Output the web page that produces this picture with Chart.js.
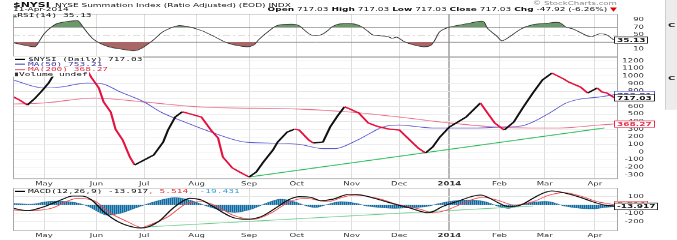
<!DOCTYPE html>
<html><head><meta charset="utf-8">
<script src="https://cdn.jsdelivr.net/npm/chart.js@4.4.1/dist/chart.umd.min.js"></script>
<style>
html,body{margin:0;padding:0;background:#fff;overflow:hidden;width:677px;height:240px;}
#stage{position:absolute;left:0;top:0;width:677px;height:400px;transform:scale(1,0.6);transform-origin:0 0;}
canvas{position:absolute;left:0;top:0;}
.t{position:absolute;white-space:nowrap;font-family:"DejaVu Sans",sans-serif;color:#111;}
.lg{position:absolute;left:13px;white-space:nowrap;font-family:"DejaVu Sans Mono",monospace;font-size:9.5px;line-height:8.5px;height:8.5px;background:#fff;color:#111;padding-right:1px;}
.dash{display:inline-block;width:10px;height:2px;vertical-align:middle;margin:0 3px 0 2px;}
.vb{position:absolute;left:614px;height:10px;line-height:10px;padding:0 2px;border:1px solid #000;background:#fff;font-family:"DejaVu Sans",sans-serif;font-size:9px;font-weight:bold;white-space:nowrap;}
</style></head>
<body><div id="stage">
<canvas id="c1" width="677" height="400"></canvas>
<canvas id="c2" width="677" height="400"></canvas>
<canvas id="c3" width="677" height="400"></canvas>

<div class="t" style="left:13px;top:0px;line-height:13px;"><span style="font-weight:bold;font-size:11px;">$NYSI</span> <span style="font-size:9px;">NYSE Summation Index (Ratio Adjusted) (EOD) INDX</span></div>
<div class="t" style="left:13px;top:11px;line-height:10px;font-size:9px;">11-Apr-2014</div>
<div class="t" style="right:60px;top:0px;line-height:11px;font-size:8.6px;color:#888;">© StockCharts.com</div>
<div class="t" style="right:60px;top:11px;line-height:11px;font-size:9px;"><b>Open</b> 717.03 <b>High</b> 717.03 <b>Low</b> 717.03 <b>Close</b> 717.03 <b>Chg</b> -47.92 (-6.26%) <span style="color:#e00000;">▼</span></div>

<div class="lg" style="top:22px;background:transparent;font-size:9.5px;line-height:8px;height:8px;"><span style="color:#4a7a4a;font-size:7px;">▲</span>RSI(14) 35.13</div>

<div class="lg" style="top:94px;"><span class="dash" style="background:#000;"></span>$NYSI (Daily) 717.03</div>
<div class="lg" style="top:102.5px;color:#3a3aa8;"><span class="dash" style="background:#5a5ad2;"></span>MA(50) 753.21</div>
<div class="lg" style="top:111px;color:#e0304c;"><span class="dash" style="background:#e8708a;"></span>MA(200) 368.27</div>
<div class="lg" style="top:119px;"><span style="display:inline-block;width:3px;height:6px;background:#333;vertical-align:middle;margin:0 1px 0 2px;"></span>Volume undef</div>

<div class="lg" style="top:314px;background:transparent;"><span class="dash" style="background:#000;"></span>MACD(12,26,9) -13.917<span style="color:#e83030;">, 5.514</span><span style="color:#3aa0d8;">, -19.431</span></div>

<div style="position:absolute;left:665px;top:0;width:12px;height:183px;background:#ececec;border-left:1px solid #d0d0d0;"></div>
<div class="t" style="left:668px;top:36px;font-size:10px;font-weight:bold;color:#222;">C</div>
<div class="t" style="left:668px;top:125px;font-size:10px;font-weight:bold;color:#222;">C</div>
</div>
<script>
// ---- x axis (trading-day index from 12-Apr-2013) ----
const monthStarts = [13,35,55,77,99,119,142,162,183,204,223,244];
const monthLabels = ['May','Jun','Jul','Aug','Sep','Oct','Nov','Dec','2014','Feb','Mar','Apr'];
const yearStart = 183;

// ---- $NYSI daily (key points) ----
const nysiDays = [0,3,6,9,12,15,17,20,24,28,31,33,36,38,41,43,46,49,51,55,59,63,65,68,71,76,79,83,86,88,92,95,99,102,105,109,111,115,118,120,124,126,128,130,133,136,139,141,145,149,153,158,162,166,170,173,176,179,183,190,196,199,202,206,210,214,218,222,226,231,233,238,241,245,247,249,252];
const nysiVals = [728,680,618,700,800,910,1013,1090,1150,1130,1079,974,842,658,526,300,158,-66,-171,-105,-40,132,289,460,530,487,460,289,184,-66,-210,-263,-329,-263,-132,26,132,263,300,289,158,118,125,132,329,470,595,570,513,382,335,300,290,170,50,-13,66,197,329,460,645,513,382,289,395,592,776,947,1039,960,921,855,776,842,789,776,717.03];

const ma50Days = [0,13,20,31,37,45,55,62,73,83,97,107,120,130,135,144,150,155,162,176,195,204,213,218,225,232,238,246,252];
const ma50Vals = [947,842,855,908,900,790,658,526,382,263,132,118,100,45,45,150,250,329,355,316,316,329,342,395,513,645,697,724,753.21];

const ma200Days = [0,13,34,55,79,120,141,162,183,204,217,229,246,252];
const ma200Vals = [632,645,710,658,592,565,526,460,382,325,316,316,355,368.27];

const trendDays = [99,248];
const trendVals = [-329,316];

// ---- RSI(14) ----
const rsiDays = [0,9,11,13,16,19,27,28,30,34,40,48,51,54,59,63,69,73,79,84,90,98,101,103,107,111,118,120,125,129,132,134,137,143,146,149,151,157,159,161,164,168,172,175,177,179,183,190,197,199,203,205,208,213,218,224,229,232,235,241,243,246,249,251,252];
const rsiVals = [28,17,32,52,70,81,88,83,65,36,17,8,6,13,36,58,74,72,61,46,27,17,22,36,58,75,78,74,49,49,61,72,79,79,72,58,49,45,40,43,31,22,17,20,36,58,70,79,86,67,45,33,43,65,77,81,83,70,65,46,45,52,49,40,35.13];
const rsiLevels = {upper:70, mid:50, lower:30};

// ---- MACD(12,26,9) ----
const macdDays = [0,6,13,20,25,29,33,38,44,51,54,61,67,72,74,79,84,92,98,104,111,116,120,125,129,134,141,146,153,159,167,174,176,180,186,196,200,204,208,213,218,222,226,232,238,243,248,252];
const macdVals = [-40,-68,-20,60,108,108,60,-80,-200,-270,-277,-200,-40,60,80,60,-20,-148,-172,-141,-20,69,100,92,52,69,129,120,69,20,-40,-93,-80,-20,40,120,80,20,-20,0,80,140,169,140,92,40,0,-13.917];
const signalDays = [0,6,16,27,34,41,48,54,56,65,73,79,86,92,101,108,116,123,132,138,143,153,162,171,176,182,187,197,203,210,218,225,231,238,245,252];
const signalVals = [-60,-68,-40,80,52,-100,-200,-270,-253,-141,20,40,-20,-120,-172,-100,40,80,40,92,120,80,0,-52,-93,-60,0,92,60,0,40,120,148,108,40,5.514];
const histDays = [0,8,14,20,26,31,35,39,45,51,56,62,68,74,81,87,93,100,106,112,118,123,127,131,137,144,148,154,160,167,173,179,185,192,198,204,208,213,219,225,231,238,244,248,252];
const histVals = [20,10,40,45,30,-10,-70,-120,-100,-40,10,60,90,60,-10,-60,-90,-50,20,70,40,-10,-30,0,40,20,-10,-30,-40,-30,-20,20,50,60,40,-20,-40,0,35,40,-10,-40,-45,-30,-19.431];
const macdTrendDays = [55,218];
const macdTrendVals = [-265,-12];

// ---- tick labels ----
const rsiTicks = [10,30,50,70,90];
const mainTicks = [-300,-200,-100,0,100,200,300,400,500,600,700,800,900,1000,1100,1200];
const macdTicks = [-200,-100,0,100];

// ---------------------------------------------------------------
const pts = (d, v) => d.map((x, i) => ({x: x, y: v[i]}));
const FONT = '"DejaVu Sans", sans-serif';

function xScale(showLabels, h){
  return {
    type:'linear', position:'bottom', min:0, max:253.7,
    afterBuildTicks: ax => { ax.ticks = monthStarts.map(v => ({value:v})); },
    afterFit: ax => { ax.height = h; },
    ticks:{display:showLabels, autoSkip:false, maxRotation:0, padding:3, color:'#333',
      font: ctx => ({family:FONT, size:8.5, weight: (ctx.tick && ctx.tick.value===yearStart) ? 'bold' : 'normal'}),
      callback: v => { const i = monthStarts.indexOf(v); return i >= 0 ? monthLabels[i] : ''; }},
    grid:{drawTicks:false,
      color: ctx => (ctx.tick && ctx.tick.value===yearStart) ? '#b8b8b8' : '#dedede',
      lineWidth: ctx => (ctx.tick && ctx.tick.value===yearStart) ? 2 : 1},
    border:{display:false}
  };
}
function yScale(min, max, tickArr, gridOn){
  return {
    type:'linear', position:'right', min:min, max:max,
    afterBuildTicks: ax => { ax.ticks = tickArr.map(v => ({value:v})); },
    afterFit: ax => { ax.width = 26; },
    ticks:{crossAlign:'far', padding:3, color:'#333', font:{family:FONT, size:8.5}, callback: v => String(v)},
    grid:{display:gridOn, drawTicks:false, color:'#e6e6e6'},
    border:{display:false}
  };
}
const framePlugin = {
  id:'frame',
  afterDraw(chart){
    const {ctx, chartArea:a} = chart;
    ctx.save(); ctx.strokeStyle = '#a8a8a8'; ctx.lineWidth = 1;
    ctx.strokeRect(a.left + 0.5, a.top + 0.5, a.right - a.left - 1, a.bottom - a.top - 1);
    ctx.restore();
  }
};
const refLinePlugin = {
  id:'refLines',
  beforeDatasetsDraw(chart, args, opts){
    if (!opts || !opts.lines) return;
    const {ctx, chartArea:a, scales:{y}} = chart;
    opts.lines.forEach(l => {
      const py = Math.round(y.getPixelForValue(l.value)) + 0.5;
      ctx.save(); ctx.strokeStyle = l.color; ctx.lineWidth = l.width || 1; ctx.setLineDash(l.dash || []);
      ctx.beginPath(); ctx.moveTo(a.left, py); ctx.lineTo(a.right, py); ctx.stroke(); ctx.restore();
    });
  }
};
function baseOpts(padding, scales, extraPlugins){
  return {
    responsive:false, animation:false, devicePixelRatio:1,
    layout:{padding:padding},
    plugins:Object.assign({legend:{display:false}, tooltip:{enabled:false}}, extraPlugins || {}),
    elements:{point:{radius:0}},
    scales:scales
  };
}
function stripes(){
  const c = document.createElement('canvas'); c.width = 2; c.height = 4;
  const g = c.getContext('2d');
  g.fillStyle = '#56a6d6'; g.fillRect(0,0,2,4);
  g.fillStyle = '#1d6592'; g.fillRect(0,0,1,4);
  return g.createPattern(c, 'repeat');
}

// ---- RSI chart ----
const rsiPts = pts(rsiDays, rsiVals);
const rsiChart = new Chart(document.getElementById('c1'), {
  type:'line',
  data:{datasets:[
    {data:rsiPts, borderColor:'#3a3a3a', borderWidth:1.1, tension:0.3,
     fill:{target:{value:rsiLevels.upper}, above:'#6a9a6a', below:'rgba(0,0,0,0)'}},
    {data:rsiPts, borderColor:'rgba(0,0,0,0)', borderWidth:0, tension:0.3,
     fill:{target:{value:rsiLevels.lower}, above:'rgba(0,0,0,0)', below:'#a86666'}}
  ]},
  options:baseOpts({left:13, right:33, top:23.3, bottom:305},
    {x:xScale(false, 0), y:yScale(-11, 106, rsiTicks, false)},
    {refLines:{lines:[
      {value:rsiLevels.upper, color:'#8a8a8a'},
      {value:rsiLevels.mid, color:'#aaaaaa', dash:[7,3,2,3]},
      {value:rsiLevels.lower, color:'#8a8a8a'}]}}),
  plugins:[framePlugin, refLinePlugin]
});

// ---- main chart ----
const mainChart = new Chart(document.getElementById('c2'), {
  type:'line',
  data:{datasets:[
    {data:pts(nysiDays, nysiVals), borderWidth:2.2, tension:0,
     segment:{borderColor: c => c.p1.parsed.y >= c.p0.parsed.y ? '#111111' : '#e3123e'}, borderColor:'#111'},
    {data:pts(trendDays, trendVals), borderColor:'#2dbd5c', borderWidth:1.6, tension:0},
    {data:pts(ma50Days, ma50Vals), borderColor:'#5a5ad2', borderWidth:1.2, tension:0.4, cubicInterpolationMode:'monotone'},
    {data:pts(ma200Days, ma200Vals), borderColor:'#e8708a', borderWidth:1.3, tension:0.4, cubicInterpolationMode:'monotone'}
  ]},
  options:baseOpts({left:13, right:33, top:95, bottom:85.7},
    {x:xScale(true, 16), y:yScale(-355, 1250, mainTicks, true)}),
  plugins:[framePlugin]
});

// ---- MACD chart ----
const macdChart = new Chart(document.getElementById('c3'), {
  type:'line',
  data:{datasets:[
    {data:pts(macdDays, macdVals), borderColor:'#111', borderWidth:1.6, tension:0.4, cubicInterpolationMode:'monotone'},
    {data:pts(signalDays, signalVals), borderColor:'#f04848', borderWidth:1.2, tension:0.4, cubicInterpolationMode:'monotone'},
    {data:pts(macdTrendDays, macdTrendVals), borderColor:'#6ccc8a', borderWidth:1.2, tension:0},
    {data:pts(histDays, histVals), borderColor:'#1d6592', borderWidth:0.8, tension:0.3, fill:'origin', backgroundColor:stripes()}
  ]},
  options:baseOpts({left:13, right:33, top:313.3, bottom:1},
    {x:xScale(true, 14), y:yScale(-313, 205, macdTicks, true)}),
  plugins:[framePlugin]
});

// ---- value boxes on the right axis ----
const stage = document.getElementById('stage');
function vbox(chart, value, text, border, color){
  const d = document.createElement('div');
  d.className = 'vb'; d.textContent = text;
  d.style.top = (chart.scales.y.getPixelForValue(value) - 6) + 'px';
  d.style.borderColor = border; d.style.color = color;
  stage.appendChild(d);
}
vbox(rsiChart, 35.13, '35.13', '#222', '#111');
vbox(mainChart, 753.21, '753.21', '#5a5ad2', '#3a3aa8');
vbox(mainChart, 717.03, '717.03', '#222', '#111');
vbox(mainChart, 368.27, '368.27', '#e0304c', '#e0304c');
vbox(macdChart, 5.514, '5.514', '#f04848', '#e83030');
vbox(macdChart, -13.917, '-13.917', '#222', '#111');
</script>
</body></html>
